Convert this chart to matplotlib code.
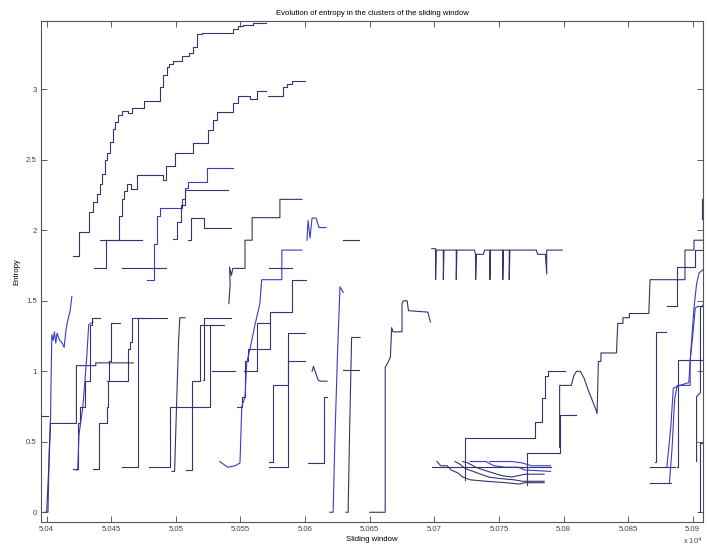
import matplotlib
matplotlib.use('Agg')
import matplotlib.pyplot as plt
from matplotlib.ticker import FuncFormatter, MultipleLocator

plt.rcParams['font.family'] = ['Liberation Sans', 'DejaVu Sans']

DARK = '#34346e'
BLUE = '#3a3ac4'

# ---- step-shaped clusters (x = change points, y = level after each point) ----
a_x = [50420, 50425, 50433, 50436, 50439, 50441, 50443, 50445, 50447, 50449, 50451, 50453, 50455, 50458,
       50463, 50466, 50475, 50488, 50490, 50493, 50495, 50498, 50505, 50510, 50513, 50516, 50520, 50544,
       50548, 50552, 50560, 50570]
a_y = [1.82, 1.99, 2.13, 2.20, 2.26, 2.33, 2.40, 2.50, 2.55, 2.63, 2.72, 2.77, 2.82, 2.85, 2.83, 2.87, 2.92,
       3.02, 3.10, 3.16, 3.18, 3.20, 3.24, 3.26, 3.30, 3.39, 3.40, 3.43, 3.45, 3.46, 3.47]
b_x = [50441, 50456, 50458, 50460, 50462, 50465, 50470, 50490, 50492, 50499, 50513, 50525, 50529, 50532,
       50544, 50548, 50557, 50563, 50570]
b_y = [1.93, 2.10, 2.22, 2.28, 2.33, 2.29, 2.39, 2.36, 2.46, 2.55, 2.62, 2.71, 2.78, 2.84, 2.90, 2.95, 2.93, 2.99]
b2_x = [50571, 50583, 50586, 50590, 50600]
b2_y = [2.95, 3.02, 3.04, 3.06]
c_x = [50437, 50446, 50474]
c_y = [1.735, 1.935]
d_x = [50458, 50492]
d_y = [1.735]
e_x = [50478, 50483, 50485, 50488, 50505, 50507, 50509, 50524, 50544]
e_y = [1.65, 1.90, 2.10, 2.16, 2.22, 2.30, 2.345, 2.44]
g_x = [50498, 50501, 50504, 50507, 50540]
g_y = [1.94, 2.06, 2.18, 2.285]
h_x = [50509, 50512, 50522, 50543]
h_y = [1.93, 2.085, 2.02]
l3_x = [50572, 50590]
l3_y = [1.735]
xx_x = [50547, 50551, 50553.5, 50556, 50573, 50590, 50601]
xx_y = [0.75, 0.82, 1.07, 1.16, 1.42, 1.65]
n_x = [50629.5, 50642]
n_y = [1.93]
p_x = [50602, 50615, 50617]
p_y = [0.35, 0.82]
s_x = [50629, 50642]
s_y = [1.01]
k1_x = [50572, 50575, 50587, 50600]
k1_y = [0.355, 0.90, 1.07]
k2_x = [50572, 50587, 50600]
k2_y = [0.32, 1.27]
rr_x = [50479, 50495.5, 50526.5, 50537]
rr_y = [0.32, 0.75, 1.33]
tt_x = [50508, 50512.5, 50519, 50529]
tt_y = [0.30, 0.93, 1.33]
uu_x = [50521, 50522, 50543]
uu_y = [0.94, 1.38]
vv_x = [50528, 50546]
vv_y = [1.0]
yy_x = [50553, 50563, 50572]
yy_y = [1.0, 1.34]
stub_x = [50396, 50401]
stub_y = [0.685]
mm1_x = [50420.5, 50424.5, 50426, 50430, 50433.5, 50435, 50441]
mm1_y = [0.31, 0.63, 0.75, 0.93, 1.33, 1.38]
nn_x = [50436, 50440.5, 50447, 50447.7, 50448.5, 50449.5, 50457]
nn_y = [0.31, 0.63, 0.75, 0.93, 1.07, 1.34]
oo_x = [50447, 50463, 50464.5, 50466, 50493]
oo_y = [0.93, 1.16, 1.21, 1.38]
qq_x = [50458, 50471, 50476]
qq_y = [0.32, 1.38]
s1_x = [50698, 50790]
s1_y = [0.32]
yp_x = [50723.8, 50724, 50778, 50783, 50786, 50788, 50801]
yp_y = [0.23, 0.525, 0.64, 0.81, 0.97, 1.0]
z_x = [50771.5, 50772, 50797, 50797.5, 50810]
z_y = [0.19, 0.42, 0.45, 0.69]
aa_x = [50871, 50871.5, 50879]
aa_y = [0.36, 1.28]
ab_x = [50867, 50886]
ab_y = [0.32]
ac_x = [50867, 50883]
ac_y = [0.205]
dd_x = [50888, 50888.5, 50908]
dd_y = [0.32, 1.08]
ee_x = [50880, 50888, 50902, 50908]
ee_y = [1.46, 1.74, 1.86]
gg_x = [50905, 50905.5, 50908]
gg_y = [0.0, 0.49]

# ---- clusters with sloped parts (plain polylines) ----
ll1_x = [50398, 50401, 50402, 50403, 50403.5, 50404, 50405, 50406, 50407, 50408, 50410, 50412, 50413.5,
         50415, 50417, 50418, 50419.5]
ll1_y = [0.0, 0.0, 0.45, 0.68, 1.0, 1.26, 1.22, 1.28, 1.20, 1.27, 1.22, 1.20, 1.17, 1.30, 1.39, 1.42, 1.53]
ll2_x = [50400, 50401.5, 50403, 50423, 50423, 50438, 50438, 50467]
ll2_y = [0.0, 0.3, 0.63, 0.63, 1.04, 1.04, 1.06, 1.06]
mm2_x = [50423, 50424, 50425, 50426.5, 50428, 50429.5, 50431, 50432.5, 50436]
mm2_y = [0.30, 0.30, 0.55, 0.65, 0.75, 0.92, 1.10, 1.33, 1.35]
ss_x = [50497, 50499, 50500, 50502, 50503, 50507]
ss_y = [0.29, 0.29, 0.60, 1.20, 1.38, 1.38]
i_x = [50541, 50542, 50541.5, 50543, 50544, 50553.5, 50553.5, 50559, 50559, 50580.5, 50580.5, 50597.5]
i_y = [1.48, 1.62, 1.74, 1.68, 1.73, 1.73, 1.93, 1.93, 2.09, 2.09, 2.22, 2.22]
ww_x = [50534, 50537, 50540, 50546, 50549.6, 50551, 50553.5, 50554.8, 50557.4, 50561.2, 50565, 50566.4,
        50582, 50582, 50597.5]
ww_y = [0.36, 0.34, 0.32, 0.33, 0.35, 0.75, 0.82, 1.06, 1.16, 1.33, 1.48, 1.65, 1.65, 1.86, 1.86]
m_x = [50601.5, 50602.3, 50603.8, 50605.4, 50608.4, 50610.8, 50616.2]
m_y = [1.93, 2.07, 1.945, 2.087, 2.087, 2.02, 2.02]
o_x = [50605.4, 50606.5, 50610, 50611.6, 50617]
o_y = [1.0, 1.035, 0.94, 0.93, 0.93]
q_x = [50619, 50621.7, 50623, 50625, 50627, 50629.5]
q_y = [0.0, 0.0, 0.5, 1.1, 1.6, 1.56]
r_x = [50631.7, 50633.3, 50634.5, 50636, 50642.5]
r_y = [0.0, 0.0, 0.6, 1.24, 1.24]
t_x = [50650, 50662, 50662, 50664, 50666, 50667, 50668, 50675, 50675, 50676, 50679, 50680, 50695, 50697]
t_y = [0.0, 0.0, 1.03, 1.06, 1.10, 1.31, 1.28, 1.28, 1.48, 1.50, 1.50, 1.43, 1.42, 1.35]
u_x = [50698, 50701, 50701, 50701.5, 50707, 50707, 50707.5, 50717, 50717, 50717.5, 50731, 50732, 50732,
       50732.5, 50738, 50739, 50743, 50743, 50743.5, 50753, 50753, 50753.5, 50758, 50758, 50758.5, 50779,
       50780, 50786, 50787, 50787, 50799]
u_y = [1.87, 1.87, 1.65, 1.86, 1.86, 1.65, 1.86, 1.86, 1.65, 1.86, 1.86, 1.83, 1.65, 1.83, 1.83, 1.86, 1.86,
       1.65, 1.86, 1.86, 1.65, 1.86, 1.86, 1.65, 1.86, 1.86, 1.83, 1.83, 1.69, 1.86, 1.86]
s2_x = [50702, 50705, 50710, 50713, 50718, 50722, 50728, 50740, 50755, 50766, 50770, 50785]
s2_y = [0.36, 0.33, 0.33, 0.30, 0.28, 0.25, 0.23, 0.22, 0.21, 0.20, 0.21, 0.21]
s3_x = [50716, 50720, 50724, 50730, 50736, 50742, 50750, 50762, 50768, 50785]
s3_y = [0.36, 0.34, 0.31, 0.29, 0.27, 0.25, 0.24, 0.23, 0.22, 0.22]
s4_x = [50722, 50726, 50732, 50738, 50745, 50752, 50760, 50770, 50785]
s4_y = [0.36, 0.35, 0.32, 0.30, 0.28, 0.26, 0.25, 0.27, 0.27]
s5_x = [50728, 50740, 50746, 50755, 50765, 50770, 50790]
s5_y = [0.36, 0.36, 0.33, 0.32, 0.32, 0.30, 0.29]
s6_x = [50743, 50760, 50768, 50775, 50790]
s6_y = [0.36, 0.36, 0.35, 0.33, 0.33]
xw_x = [50797, 50797, 50806, 50808, 50810, 50813, 50816, 50819, 50822, 50825, 50826, 50827, 50829, 50829,
        50841, 50842, 50846, 50846, 50851, 50851, 50866, 50867, 50894, 50894, 50901, 50901, 50908]
xw_y = [0.46, 0.90, 0.90, 0.97, 1.0, 1.0, 0.95, 0.87, 0.80, 0.73, 0.70, 1.07, 1.07, 1.13, 1.13, 1.34, 1.34,
        1.38, 1.38, 1.41, 1.41, 1.65, 1.65, 1.86, 1.86, 1.93, 1.93]
bb_x = [50882, 50884, 50886, 50888, 50898, 50898, 50900, 50902, 50904, 50908]
bb_y = [0.21, 0.45, 0.80, 0.90, 0.90, 1.08, 1.25, 1.45, 1.46, 1.46]
cc_x = [50880, 50883, 50885, 50890, 50897, 50899, 50901, 50903, 50905, 50908]
cc_y = [0.32, 0.60, 0.88, 0.90, 0.92, 1.20, 1.45, 1.62, 1.70, 1.72]
ff_x = [50903, 50903, 50906, 50906, 50908]
ff_y = [0.36, 0.82, 0.85, 1.45, 1.47]
hh_x = [50907.5, 50907.5]
hh_y = [2.08, 2.22]

step_series = [
    (a_x, a_y, DARK), (b_x, b_y, DARK), (b2_x, b2_y, DARK), (c_x, c_y, DARK), (d_x, d_y, DARK),
    (e_x, e_y, BLUE), (g_x, g_y, DARK), (h_x, h_y, DARK), (l3_x, l3_y, DARK), (xx_x, xx_y, DARK),
    (n_x, n_y, DARK), (p_x, p_y, DARK), (s_x, s_y, DARK), (k1_x, k1_y, DARK), (k2_x, k2_y, DARK),
    (rr_x, rr_y, DARK), (tt_x, tt_y, DARK), (uu_x, uu_y, DARK), (vv_x, vv_y, DARK), (yy_x, yy_y, DARK),
    (stub_x, stub_y, DARK), (mm1_x, mm1_y, DARK), (nn_x, nn_y, DARK), (oo_x, oo_y, DARK),
    (qq_x, qq_y, DARK), (s1_x, s1_y, DARK), (yp_x, yp_y, DARK), (z_x, z_y, DARK), (aa_x, aa_y, DARK),
    (ab_x, ab_y, DARK), (ac_x, ac_y, DARK), (dd_x, dd_y, DARK), (ee_x, ee_y, DARK), (gg_x, gg_y, DARK),
]
line_series = [
    (ll1_x, ll1_y, BLUE), (ll2_x, ll2_y, DARK), (mm2_x, mm2_y, BLUE), (ss_x, ss_y, DARK),
    (i_x, i_y, DARK), (ww_x, ww_y, BLUE), (m_x, m_y, BLUE), (o_x, o_y, DARK), (q_x, q_y, BLUE),
    (r_x, r_y, DARK), (t_x, t_y, DARK), (u_x, u_y, DARK), (s2_x, s2_y, DARK), (s3_x, s3_y, DARK),
    (s4_x, s4_y, DARK), (s5_x, s5_y, BLUE), (s6_x, s6_y, BLUE), (xw_x, xw_y, DARK), (bb_x, bb_y, BLUE),
    (cc_x, cc_y, BLUE), (ff_x, ff_y, DARK), (hh_x, hh_y, DARK),
]

fig = plt.figure(figsize=(7.07, 5.49), dpi=100)
ax = fig.add_axes([0.058, 0.0492, 0.9364, 0.913])

for xs, ys, col in step_series:
    ys = list(ys) + [ys[-1]] * (len(xs) - len(ys))
    ax.plot(xs, ys, drawstyle='steps-post', color=col, lw=0.8)
for xs, ys, col in line_series:
    ax.plot(xs, ys, color=col, lw=0.8)

ax.set_xlim(50395.6, 50908)
ax.set_ylim(-0.069, 3.487)
ax.xaxis.set_major_locator(MultipleLocator(50))
ax.yaxis.set_major_locator(MultipleLocator(0.5))
ax.xaxis.set_major_formatter(FuncFormatter(lambda v, p: f'{v / 1e4:g}'))
ax.yaxis.set_major_formatter(FuncFormatter(lambda v, p: f'{v:g}'))
ax.tick_params(direction='in', top=True, right=True, length=4, width=0.6, labelsize=5.6,
               colors='#444444', pad=3)
for sp in ax.spines.values():
    sp.set_color('#555555')
    sp.set_linewidth(0.8)

ax.set_title('Evolution of entropy in the clusters of the sliding window', fontsize=5.6, pad=4)
ax.set_xlabel('Sliding window', fontsize=5.6, labelpad=2)
ax.set_ylabel('Entropy', fontsize=5.6, labelpad=4)
fig.text(0.993, 0.004, r'x 10$^4$', fontsize=5.4, ha='right', va='bottom', color='#444444')

fig.savefig('out.png', dpi=100)
